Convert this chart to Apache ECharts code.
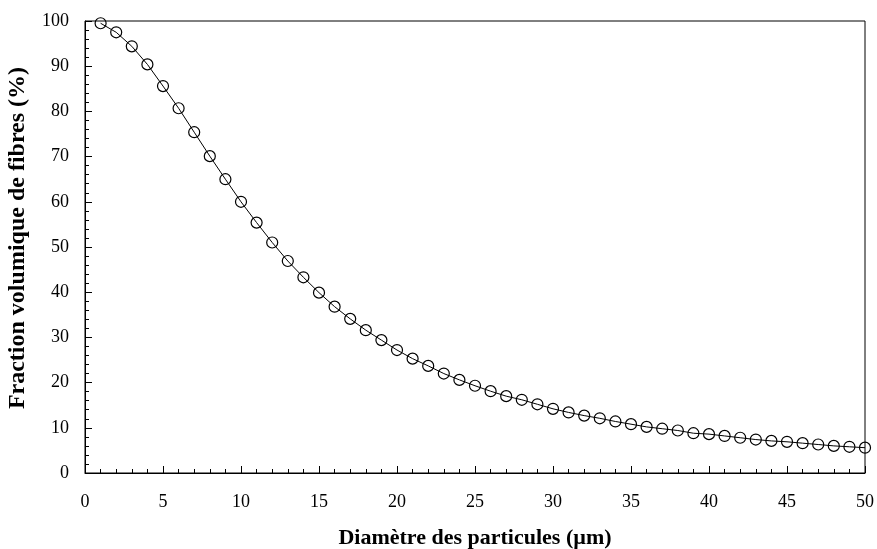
<!DOCTYPE html>
<html>
<head>
<meta charset="utf-8">
<script src="https://cdn.jsdelivr.net/npm/echarts@6/dist/echarts.min.js"></script>
<style>
  html, body { margin: 0; padding: 0; background: #fff; }
  #chart { width: 877px; height: 549px; }
</style>
</head>
<body>
<div id="chart"></div>
<script>
// Particle diameter (µm)
const diameters = [1, 2, 3, 4, 5, 6, 7, 8, 9, 10,
  11, 12, 13, 14, 15, 16, 17, 18, 19, 20,
  21, 22, 23, 24, 25, 26, 27, 28, 29, 30,
  31, 32, 33, 34, 35, 36, 37, 38, 39, 40,
  41, 42, 43, 44, 45, 46, 47, 48, 49, 50]

// Fibre volume fraction (%)
const fractions = [99.5, 97.5, 94.4, 90.4, 85.6, 80.7, 75.4, 70.1, 65.0, 60.0,
  55.4, 51.0, 46.9, 43.3, 39.9, 36.8, 34.1, 31.6, 29.4, 27.2,
  25.3, 23.7, 22.0, 20.6, 19.3, 18.1, 17.0, 16.2, 15.2, 14.2,
  13.4, 12.7, 12.1, 11.4, 10.8, 10.2, 9.8, 9.4, 8.8, 8.6,
  8.2, 7.8, 7.4, 7.1, 6.9, 6.6, 6.3, 6.0, 5.8, 5.6]

const xTitle = 'Diamètre des particules (µm)'
const yTitle = 'Fraction volumique de fibres (%)'

const font = '"Liberation Serif", "Times New Roman", serif'

const chart = echarts.init(document.getElementById('chart'))

const option = {
  animation: false,
  textStyle: { fontFamily: font },
  grid: {
    left: 85,
    right: 12,
    top: 21,
    bottom: 76,
    outerBoundsMode: 'none',
    show: true,
    borderColor: '#000',
    borderWidth: 1
  },
  xAxis: {
    type: 'value',
    min: 0,
    max: 50,
    interval: 5,
    name: xTitle,
    nameLocation: 'middle',
    nameGap: 54,
    nameTextStyle: { fontFamily: font, fontSize: 22, fontWeight: 'bold', color: '#000' },
    axisLine: { lineStyle: { color: '#000', width: 1 } },
    axisTick: { inside: true, length: 7, lineStyle: { color: '#000' } },
    minorTick: { show: true, splitNumber: 5, length: 4, lineStyle: { color: '#000' } },
    axisLabel: { fontFamily: font, fontSize: 18, color: '#000', margin: 20 },
    splitLine: { show: false }
  },
  yAxis: {
    type: 'value',
    min: 0,
    max: 100,
    interval: 10,
    name: yTitle,
    nameLocation: 'middle',
    nameGap: 55,
    nameTextStyle: { fontFamily: font, fontSize: 24, fontWeight: 'bold', color: '#000', padding: [0, 0, 0, 18] },
    axisLine: { show: true, lineStyle: { color: '#000', width: 1 } },
    axisTick: { show: true, inside: true, length: 7, lineStyle: { color: '#000' } },
    minorTick: { show: true, splitNumber: 5, length: 4, lineStyle: { color: '#000' } },
    axisLabel: { fontFamily: font, fontSize: 18, color: '#000', margin: 16 },
    splitLine: { show: false }
  },
  series: [{
    type: 'line',
    data: diameters.map((d, i) => [d, fractions[i]]),
    clip: false,
    symbol: 'circle',
    symbolSize: 11,
    showAllSymbol: true,
    lineStyle: { color: '#000', width: 1 },
    itemStyle: { color: 'rgba(255,255,255,0)', borderColor: '#000', borderWidth: 1.2 }
  }]
}

chart.setOption(option)
</script>
</body>
</html>
